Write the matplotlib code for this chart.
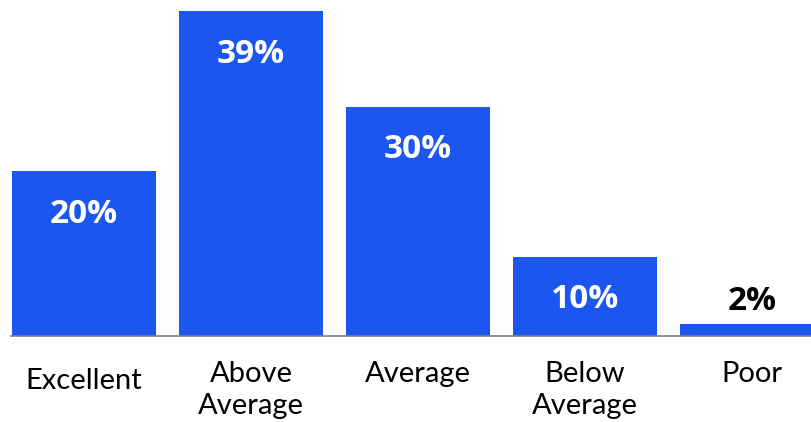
import matplotlib
matplotlib.use("Agg")
import matplotlib.pyplot as plt
from matplotlib.transforms import ScaledTranslation

categories = ["Excellent", "Above\nAverage", "Average", "Below\nAverage", "Poor"]
bar_heights = [19.8, 39.0, 27.5, 9.5, 1.45]
value_labels = ["20%", "39%", "30%", "10%", "2%"]

BLUE = "#1b56f0"

fig = plt.figure(figsize=(8.11, 4.22), dpi=100)
ax = fig.add_axes([11 / 811, 1 - 336 / 422, 1 - 11 / 811, 325 / 422])

x = list(range(len(categories)))
bars = ax.bar(x, bar_heights, width=0.862, color=BLUE, zorder=2)

ax.set_xlim(-0.437, 4.353)
ax.set_ylim(0, 39)

for rect, lab in zip(bars, value_labels):
    h = rect.get_height()
    cx = rect.get_x() + rect.get_width() / 2
    if h > 5:
        ax.annotate(lab, (cx, h), xytext=(0, -31), textcoords="offset points",
                    ha="center", va="center", color="white", fontsize=24,
                    fontweight="bold", family="Open Sans")
    else:
        ax.annotate(lab, (cx, h), xytext=(0, 16), textcoords="offset points",
                    ha="center", va="center", color="black", fontsize=24,
                    fontweight="bold", family="Open Sans")

ax.set_xticks(x)
ax.set_xticklabels(categories, family="Lato", fontsize=21, linespacing=1.27)
ax.tick_params(axis="x", length=0, pad=18)
tl0 = ax.get_xticklabels()[0]
tl0.set_transform(tl0.get_transform() + ScaledTranslation(0, -0.07, fig.dpi_scale_trans))
ax.set_yticks([])
for s in ["top", "left", "right"]:
    ax.spines[s].set_visible(False)
ax.spines["bottom"].set_color("#7a7f88")
ax.spines["bottom"].set_linewidth(1.2)

fig.savefig("out.png", dpi=100)
